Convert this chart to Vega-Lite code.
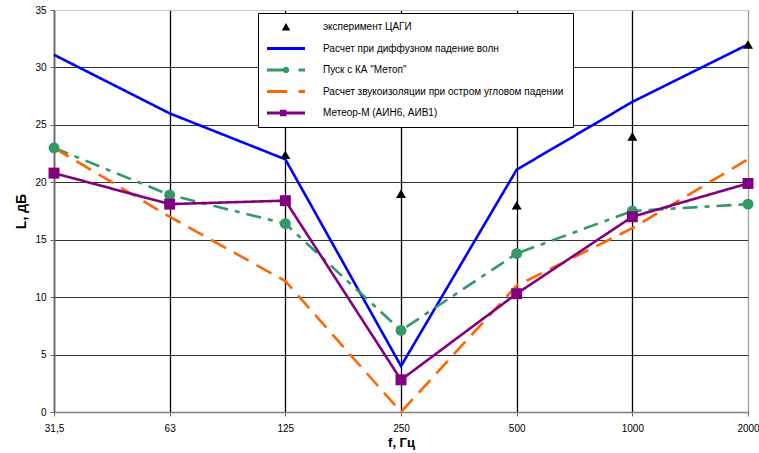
{
  "$schema": "https://vega.github.io/schema/vega-lite/v6.json",
  "autosize": "none",
  "width": 694,
  "height": 402,
  "padding": {"left": 54, "top": 10, "right": 11, "bottom": 41},
  "background": "white",
  "config": {
    "font": "Liberation Sans",
    "view": {"stroke": "#c0c0c0", "strokeWidth": 1}
  },
  "data": {
    "values": [
      {"f": "125", "L": 22.4, "s": "эксперимент ЦАГИ"},
      {"f": "250", "L": 19.0, "s": "эксперимент ЦАГИ"},
      {"f": "500", "L": 18.0, "s": "эксперимент ЦАГИ"},
      {"f": "1000", "L": 24.0, "s": "эксперимент ЦАГИ"},
      {"f": "2000", "L": 32.0, "s": "эксперимент ЦАГИ"},
      {"f": "31,5", "L": 31.1, "s": "Расчет при диффузном падение волн"},
      {"f": "63", "L": 26.0, "s": "Расчет при диффузном падение волн"},
      {"f": "125", "L": 22.0, "s": "Расчет при диффузном падение волн"},
      {"f": "250", "L": 4.0, "s": "Расчет при диффузном падение волн"},
      {"f": "500", "L": 21.1, "s": "Расчет при диффузном падение волн"},
      {"f": "1000", "L": 27.0, "s": "Расчет при диффузном падение волн"},
      {"f": "2000", "L": 32.0, "s": "Расчет при диффузном падение волн"},
      {"f": "31,5", "L": 23.0, "s": "Пуск с КА \"Метоп\""},
      {"f": "63", "L": 18.9, "s": "Пуск с КА \"Метоп\""},
      {"f": "125", "L": 16.4, "s": "Пуск с КА \"Метоп\""},
      {"f": "250", "L": 7.1, "s": "Пуск с КА \"Метоп\""},
      {"f": "500", "L": 13.8, "s": "Пуск с КА \"Метоп\""},
      {"f": "1000", "L": 17.5, "s": "Пуск с КА \"Метоп\""},
      {"f": "2000", "L": 18.1, "s": "Пуск с КА \"Метоп\""},
      {"f": "31,5", "L": 23.0, "s": "Расчет звукоизоляции при остром угловом падении"},
      {"f": "63", "L": 17.0, "s": "Расчет звукоизоляции при остром угловом падении"},
      {"f": "125", "L": 11.4, "s": "Расчет звукоизоляции при остром угловом падении"},
      {"f": "250", "L": 0.0, "s": "Расчет звукоизоляции при остром угловом падении"},
      {"f": "500", "L": 11.0, "s": "Расчет звукоизоляции при остром угловом падении"},
      {"f": "1000", "L": 16.0, "s": "Расчет звукоизоляции при остром угловом падении"},
      {"f": "2000", "L": 22.0, "s": "Расчет звукоизоляции при остром угловом падении"},
      {"f": "31,5", "L": 20.8, "s": "Метеор-М (АИН6, АИВ1)"},
      {"f": "63", "L": 18.1, "s": "Метеор-М (АИН6, АИВ1)"},
      {"f": "125", "L": 18.4, "s": "Метеор-М (АИН6, АИВ1)"},
      {"f": "250", "L": 2.8, "s": "Метеор-М (АИН6, АИВ1)"},
      {"f": "500", "L": 10.3, "s": "Метеор-М (АИН6, АИВ1)"},
      {"f": "1000", "L": 17.0, "s": "Метеор-М (АИН6, АИВ1)"},
      {"f": "2000", "L": 19.9, "s": "Метеор-М (АИН6, АИВ1)"}
    ]
  },
  "encoding": {
    "x": {
      "field": "f", "type": "ordinal", "sort": null,
      "scale": {"type": "point", "padding": 0, "domain": ["31,5", "63", "125", "250", "500", "1000", "2000"]},
      "axis": {
        "title": "f, Гц", "titleFontSize": 13, "titleFontWeight": "bold", "titleColor": "black", "titlePadding": 3,
        "labelAngle": 0, "labelFontSize": 10, "labelColor": "black", "labelPadding": 7,
        "tickSize": 4, "tickColor": "#666", "domainColor": "#808080", "domainWidth": 1.5,
        "grid": true, "gridWidth": 1.3, "gridOpacity": 1,
        "gridColor": {"condition": {"test": "datum.value === '2000'", "value": "#a0a0a0"}, "value": "#000000"}
      }
    },
    "y": {
      "field": "L", "type": "quantitative",
      "scale": {"domain": [0, 35], "nice": false},
      "axis": {
        "title": "L, дБ", "titleFontSize": 14, "titleFontWeight": "bold", "titleColor": "black", "titlePadding": 6,
        "values": [0, 5, 10, 15, 20, 25, 30, 35],
        "labelFontSize": 10, "labelColor": "black", "labelPadding": 4,
        "tickSize": 4, "tickColor": "#666", "domainColor": "#666", "domainWidth": 1.5,
        "grid": true, "gridWidth": 1, "gridOpacity": 1,
        "gridColor": {"condition": {"test": "datum.value === 35", "value": "#c8c8c8"}, "value": "#333333"}
      }
    }
  },
  "layer": [
    {
      "transform": [{"filter": {"field": "s", "oneOf": ["Расчет при диффузном падение волн", "Пуск с КА \"Метоп\"", "Расчет звукоизоляции при остром угловом падении", "Метеор-М (АИН6, АИВ1)"]}}],
      "mark": {"type": "line", "strokeWidth": 2.6},
      "encoding": {
        "color": {
          "field": "s", "type": "nominal", "legend": null,
          "scale": {"domain": ["Расчет при диффузном падение волн", "Пуск с КА \"Метоп\"", "Расчет звукоизоляции при остром угловом падении", "Метеор-М (АИН6, АИВ1)"],
                    "range": ["#0000FF", "#339966", "#FF6600", "#800080"]}
        },
        "strokeDash": {
          "field": "s", "type": "nominal", "legend": null,
          "scale": {"domain": ["Расчет при диффузном падение волн", "Пуск с КА \"Метоп\"", "Расчет звукоизоляции при остром угловом падении", "Метеор-М (АИН6, АИВ1)"],
                    "range": [[1, 0], [15, 7, 5, 7], [17, 9], [1, 0]]}
        }
      }
    },
    {
      "transform": [{"filter": {"field": "s", "equal": "Пуск с КА \"Метоп\""}}],
      "mark": {"type": "point", "shape": "circle", "filled": true, "fill": "#339966", "opacity": 1, "size": 120, "strokeWidth": 0}
    },
    {
      "transform": [{"filter": {"field": "s", "equal": "Метеор-М (АИН6, АИВ1)"}}],
      "mark": {"type": "point", "shape": "square", "filled": true, "fill": "#800080", "opacity": 1, "size": 120, "strokeWidth": 0}
    },
    {
      "transform": [{"filter": {"field": "s", "equal": "эксперимент ЦАГИ"}}],
      "mark": {"type": "point", "shape": "triangle-up", "filled": true, "fill": "#000000", "opacity": 1, "size": 100, "strokeWidth": 0}
    },
    {
      "transform": [{"filter": "false"}],
      "mark": {"type": "point", "filled": true},
      "encoding": {
        "x": null, "y": null,
        "fill": {
          "field": "s", "type": "nominal",
          "scale": {"domain": ["эксперимент ЦАГИ", "Расчет при диффузном падение волн", "Пуск с КА \"Метоп\"", "Расчет звукоизоляции при остром угловом падении", "Метеор-М (АИН6, АИВ1)"],
                    "range": ["#000000", "#0000FF", "#339966", "#FF6600", "#800080"]},
          "legend": {
            "title": null, "orient": "none", "legendX": 204, "legendY": 3, "direction": "vertical",
            "fillColor": "white", "strokeColor": "#000000", "padding": 9,
            "symbolSize": 100, "symbolOffset": 14, "symbolStrokeWidth": 0, "symbolOpacity": 1,
            "labelOffset": 32, "labelFontSize": 10, "labelColor": "black", "labelFont": "Liberation Sans",
            "rowPadding": 11.5, "labelLimit": 400
          }
        },
        "shape": {
          "field": "s", "type": "nominal",
          "scale": {"domain": ["эксперимент ЦАГИ", "Расчет при диффузном падение волн", "Пуск с КА \"Метоп\"", "Расчет звукоизоляции при остром угловом падении", "Метеор-М (АИН6, АИВ1)"],
                    "range": [
                      "M0,-0.8L0.85,0.7L-0.85,0.7Z",
                      "M-3.8,-0.28H3.8V0.28H-3.8Z",
                      "M-3.8,-0.28H-0.6V0.28H-3.8Z M-0.65,0A0.65 0.65 0 1 1 0.65,0A0.65 0.65 0 1 1 -0.65,0Z M2.5,-0.28H3.8V0.28H2.5Z",
                      "M-3.8,-0.28H0.2V0.28H-3.8Z M2.5,-0.28H3.8V0.28H2.5Z",
                      "M-3.8,-0.28H3.8V0.28H-3.8Z M-1.2,-0.65H0.1V0.65H-1.2Z"
                    ]},
          "legend": {
            "title": null, "orient": "none", "legendX": 204, "legendY": 3, "direction": "vertical",
            "fillColor": "white", "strokeColor": "#000000", "padding": 9,
            "symbolSize": 100, "symbolOffset": 14, "symbolStrokeWidth": 0, "symbolOpacity": 1,
            "labelOffset": 32, "labelFontSize": 10, "labelColor": "black", "labelFont": "Liberation Sans",
            "rowPadding": 11.5, "labelLimit": 400
          }
        }
      }
    }
  ]
}
